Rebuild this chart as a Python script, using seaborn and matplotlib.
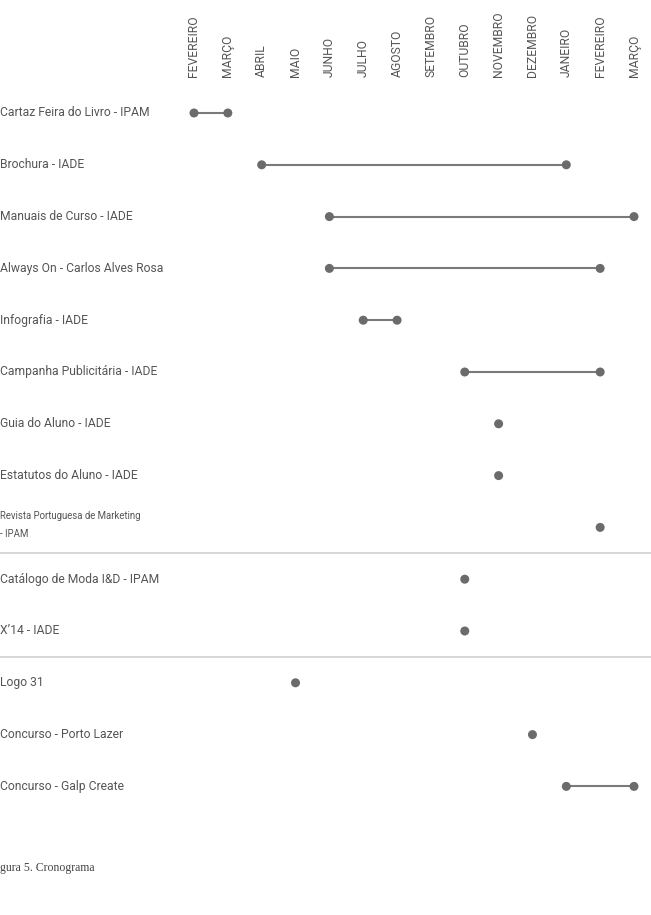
import numpy as np
import pandas as pd
import matplotlib
matplotlib.use('Agg')
import matplotlib.pyplot as plt
import seaborn as sns

months = ['FEVEREIRO', 'MARÇO', 'ABRIL', 'MAIO', 'JUNHO', 'JULHO', 'AGOSTO',
          'SETEMBRO', 'OUTUBRO', 'NOVEMBRO', 'DEZEMBRO', 'JANEIRO', 'FEVEREIRO', 'MARÇO']

projects = ['Cartaz Feira do Livro - IPAM', 'Brochura - IADE', 'Manuais de Curso - IADE',
            'Always On - Carlos Alves Rosa', 'Infografia - IADE', 'Campanha Publicitária - IADE',
            'Guia do Aluno - IADE', 'Estatutos do Aluno - IADE',
            'Revista Portuguesa de Marketing\n- IPAM',
            'Catálogo de Moda I&D - IPAM', 'X\u201914 - IADE',
            'Logo 31', 'Concurso - Porto Lazer', 'Concurso - Galp Create']
start_month = [0, 2, 4, 4, 5, 8, 9, 9, 12, 8, 8, 3, 10, 11]
end_month = [1, 11, 13, 12, 6, 12, 9, 9, 12, 8, 8, 3, 10, 13]
group = [0, 0, 0, 0, 0, 0, 0, 0, 0, 1, 1, 2, 2, 2]

DOT = '#6b6b6b'
TXT = '#555555'

sns.set_theme(style='white')
plt.rcParams['font.family'] = ['Roboto', 'DejaVu Sans']

rows = np.arange(len(projects))
df = pd.DataFrame({'project': projects, 'row': rows, 'start': start_month, 'end': end_month})
pts = pd.concat([df[['row', 'start']].rename(columns={'start': 'month'}),
                 df[['row', 'end']].rename(columns={'end': 'month'})]).drop_duplicates()

fig = plt.figure(figsize=(6.51, 9.15), dpi=100)
ax = fig.add_axes([0, 0, 1, 1])

ax.hlines(df['row'], df['start'], df['end'], color='#7a7a7a', lw=1.5, zorder=1)
sns.scatterplot(data=pts, x='month', y='row', color=DOT, s=42, edgecolor='none',
                ax=ax, zorder=2, legend=False)

step_x = 33.85
step_y = 51.8
ax.set_xlim(-194 / step_x, 13 + 17 / step_x)
ax.set_ylim((915 - 113) / step_y, -113 / step_y)
ax.axis('off')

x_left = ax.get_xlim()[0] + 0.01
for r, name in zip(rows, projects):
    if '\n' in name:
        ax.text(x_left, r - 0.05, name, ha='left', va='center', fontsize=6.9,
                color=TXT, linespacing=2.0)
    else:
        ax.text(x_left, r, name, ha='left', va='center', fontsize=8.7, color=TXT)

for i, m in enumerate(months):
    ax.text(i, -0.69, m, rotation=90, ha='center', va='bottom', fontsize=8.7, color=TXT)

# separators between project groups
for i in range(1, len(group)):
    if group[i] != group[i - 1]:
        ax.axhline(i - 0.5, color='#cfcfcf', lw=1.2, zorder=0)

fig.text(0.0, 1 - 868 / 915, 'gura 5. Cronograma', ha='left', va='center',
         fontsize=8.5, color='#444444', family=['Liberation Serif', 'DejaVu Serif'])

fig.savefig('out.png', dpi=100, facecolor='white')
